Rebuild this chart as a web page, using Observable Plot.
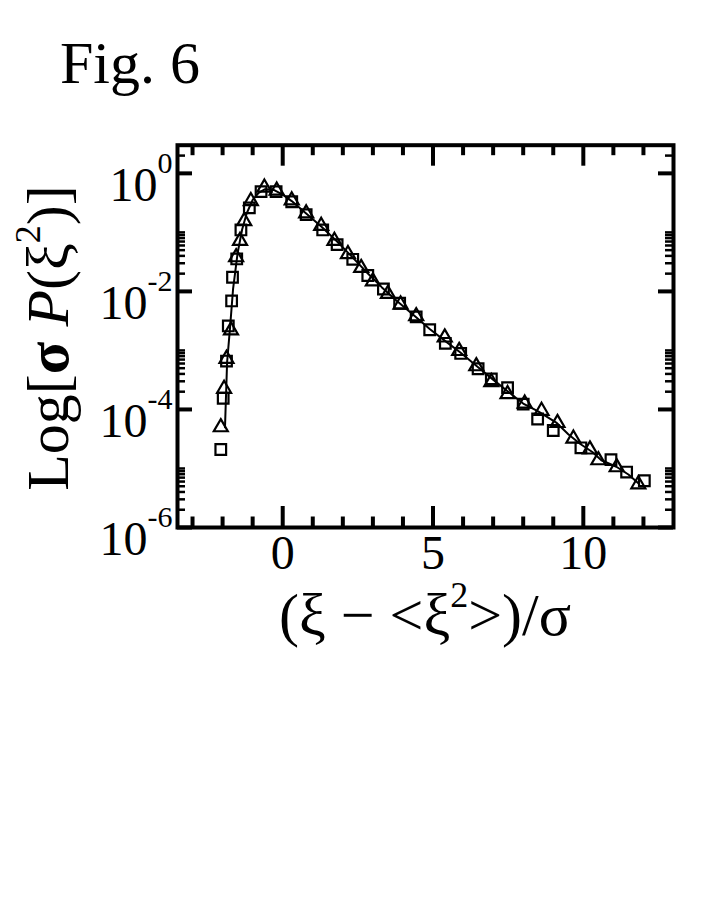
<!DOCTYPE html>
<html>
<head>
<meta charset="utf-8">
<script src="https://cdn.jsdelivr.net/npm/d3@7"></script>
<script src="https://cdn.jsdelivr.net/npm/@observablehq/plot@0.6"></script>
<style>
  html, body { margin: 0; padding: 0; background: #fff; }
  #chart { width: 708px; height: 917px; }
</style>
</head>
<body>
<div id="chart"></div>
<script>
// ---- data ----
const squareX = [-2.06, -1.98, -1.87, -1.81, -1.70, -1.67, -1.53, -1.39, -1.11, -0.72, -0.22, 0.30, 0.78, 1.33, 1.81, 2.33, 2.83, 3.35, 3.89, 4.44, 4.89, 5.41, 5.92, 6.50, 6.94, 7.48, 8.00, 8.48, 9.00, 9.92, 10.92, 11.44, 12.03];
const squareY = [2.1e-5, 1.55e-4, 6.6e-4, 2.6e-3, 6.9e-3, 1.74e-2, 3.55e-2, 0.11, 0.26, 0.49, 0.49, 0.33, 0.20, 0.11, 0.062, 0.035, 0.0186, 0.011, 0.0063, 0.0037, 0.00224, 0.00132, 8.9e-4, 4.9e-4, 3.3e-4, 2.34e-4, 1.23e-4, 6.9e-5, 4.4e-5, 2.24e-5, 1.41e-5, 8.7e-6, 6.2e-6];

const triangleX = [-2.06, -1.95, -1.87, -1.72, -1.55, -1.42, -1.28, -1.06, -0.61, -0.20, 0.30, 0.78, 1.28, 1.72, 2.17, 2.61, 3.00, 3.50, 3.92, 4.44, 5.39, 5.87, 6.44, 6.94, 7.48, 8.05, 8.61, 9.14, 9.67, 10.22, 10.50, 11.11, 11.83];
const triangleY = [5.0e-5, 2.24e-4, 7.2e-4, 2.19e-3, 0.038, 0.072, 0.155, 0.34, 0.575, 0.51, 0.35, 0.21, 0.129, 0.072, 0.043, 0.025, 0.0148, 0.0091, 0.006, 0.0038, 0.00166, 9.8e-4, 5.4e-4, 2.9e-4, 1.82e-4, 1.26e-4, 9.5e-5, 5.9e-5, 3.2e-5, 2.1e-5, 1.38e-5, 1.05e-5, 5.4e-6];

const lineX = [-1.92, -1.85, -1.75, -1.65, -1.50, -1.35, -1.20, -1.00, -0.80, -0.60, -0.30, 0.00, 0.30, 0.80, 1.30, 1.80, 2.30, 2.80, 3.30, 3.80, 4.40, 4.90, 5.40, 5.90, 6.50, 7.00, 7.50, 8.00, 8.50, 9.10, 9.50, 9.90, 10.30, 10.60, 11.10, 11.50, 11.85];
const lineY = [5.0e-5, 6.3e-4, 2.5e-3, 0.0112, 0.0447, 0.112, 0.209, 0.355, 0.468, 0.537, 0.525, 0.437, 0.339, 0.204, 0.123, 0.0708, 0.0389, 0.0209, 0.0117, 0.0069, 0.0038, 0.00229, 0.00145, 9.3e-4, 5.2e-4, 3.2e-4, 2.0e-4, 1.26e-4, 9.3e-5, 6.0e-5, 3.8e-5, 2.6e-5, 1.9e-5, 1.38e-5, 1.07e-5, 7.9e-6, 5.5e-6];

const xMajor = [0, 5, 10];
const xMinor = [-3, -2, -1, 1, 2, 3, 4, 6, 7, 8, 9, 11, 12];
const yMajor = [1e-6, 1e-4, 1e-2, 1];
const yMinor = [2e-6, 3e-6, 4e-6, 5e-6, 6e-6, 7e-6, 8e-6, 9e-6, 1e-5,
                2e-4, 3e-4, 4e-4, 5e-4, 6e-4, 7e-4, 8e-4, 9e-4, 1e-3,
                2e-2, 3e-2, 4e-2, 5e-2, 6e-2, 7e-2, 8e-2, 9e-2, 1e-1,
                2];
const xTickLabels = ["0", "5", "10"];
const yTickExponents = ["-6", "-4", "-2", "0"];

const titleText = "Fig. 6";

// ---- layout ----
const W = 708, H = 917;
const mL = 177, mR = 35, mT = 144.7, mB = 390;
const plotW = W - mL - mR, plotH = H - mT - mB;

const squares = squareX.map((x, i) => ({x, y: squareY[i]}));
const triangles = triangleX.map((x, i) => ({x, y: triangleY[i]}));
const curve = lineX.map((x, i) => ({x, y: lineY[i]}));

const chart = Plot.plot({
  width: W,
  height: H,
  marginLeft: mL,
  marginRight: mR,
  marginTop: mT,
  marginBottom: mB,
  style: {fontFamily: "Liberation Serif", background: "white", color: "black", overflow: "visible"},
  x: {domain: [-3.5, 13]},
  y: {type: "log", domain: [1e-6, 3]},
  marks: [
    // ticks, all four sides, pointing inward
    Plot.tickX(xMajor, {x: d => d, insetTop: plotH - 21, stroke: "black", strokeWidth: 4}),
    Plot.tickX(xMinor, {x: d => d, insetTop: plotH - 10.5, stroke: "black", strokeWidth: 4}),
    Plot.tickX(xMajor, {x: d => d, insetBottom: plotH - 21, stroke: "black", strokeWidth: 4}),
    Plot.tickX(xMinor, {x: d => d, insetBottom: plotH - 10.5, stroke: "black", strokeWidth: 4}),
    Plot.tickY(yMajor, {y: d => d, insetRight: plotW - 15, stroke: "black", strokeWidth: 4}),
    Plot.tickY(yMinor, {y: d => d, insetRight: plotW - 8, stroke: "black", strokeWidth: 2.5}),
    Plot.tickY(yMajor, {y: d => d, insetLeft: plotW - 15, stroke: "black", strokeWidth: 4}),
    Plot.tickY(yMinor, {y: d => d, insetLeft: plotW - 8, stroke: "black", strokeWidth: 2.5}),
    // curve and data
    Plot.line(curve, {x: "x", y: "y", stroke: "black", strokeWidth: 2}),
    Plot.dot(squares, {x: "x", y: "y", symbol: "square", r: 6, stroke: "black", strokeWidth: 2.2, fill: "none"}),
    Plot.dot(triangles, {x: "x", y: "y", symbol: "triangle", r: 5.2, stroke: "black", strokeWidth: 2.2, fill: "none"}),
    Plot.frame({stroke: "black", strokeWidth: 4}),
    // axes (labels only)
    Plot.axisX({ticks: xMajor, tickSize: 0, tickPadding: 7, fontSize: 48, tickFormat: (d, i) => xTickLabels[xMajor.indexOf(d)], label: null}),
    Plot.axisY({ticks: yMajor, tickSize: 0, tickPadding: 5, fontSize: 48, dy: 12, tickFormat: d => "10^" + yTickExponents[yMajor.indexOf(d)], label: null})
  ]
});

document.getElementById("chart").appendChild(chart);

const svg = d3.select(chart.tagName.toLowerCase() === "svg" ? chart : chart.querySelector("svg"));

// superscripts on y tick labels
svg.selectAll('g[aria-label="y-axis tick label"] text').each(function () {
  const t = d3.select(this);
  const parts = t.text().split("^");
  t.text(parts[0]);
  t.append("tspan").attr("font-size", 30).attr("dy", -28).text(parts[1]);
});

// title
svg.append("text")
  .attr("x", 60).attr("y", 83)
  .attr("text-anchor", "start")
  .attr("font-family", "Liberation Serif").attr("font-size", 60)
  .attr("fill", "black")
  .text(titleText);

// x axis label: (ξ − <ξ²>)/σ
const xl = svg.append("text")
  .attr("x", 425).attr("y", 635)
  .attr("text-anchor", "middle")
  .attr("font-family", "Liberation Serif").attr("font-size", 60)
  .attr("fill", "black");
xl.append("tspan").text("(ξ − <ξ");
xl.append("tspan").attr("font-size", 36).attr("dy", -28).text("2");
xl.append("tspan").attr("dy", 28).text(">)/σ");

// y axis label: Log[σ P(ξ²)]
const yl = svg.append("text")
  .attr("transform", "translate(68,338) rotate(-90)")
  .attr("text-anchor", "middle")
  .attr("font-family", "Liberation Serif").attr("font-size", 60)
  .attr("fill", "black");
yl.append("tspan").text("Log[");
yl.append("tspan").attr("font-weight", "bold").text("σ ");
yl.append("tspan").attr("font-style", "italic").text("P");
yl.append("tspan").text("(ξ");
yl.append("tspan").attr("font-size", 36).attr("dy", -28).text("2");
yl.append("tspan").attr("dy", 28).text(")]");
</script>
</body>
</html>
